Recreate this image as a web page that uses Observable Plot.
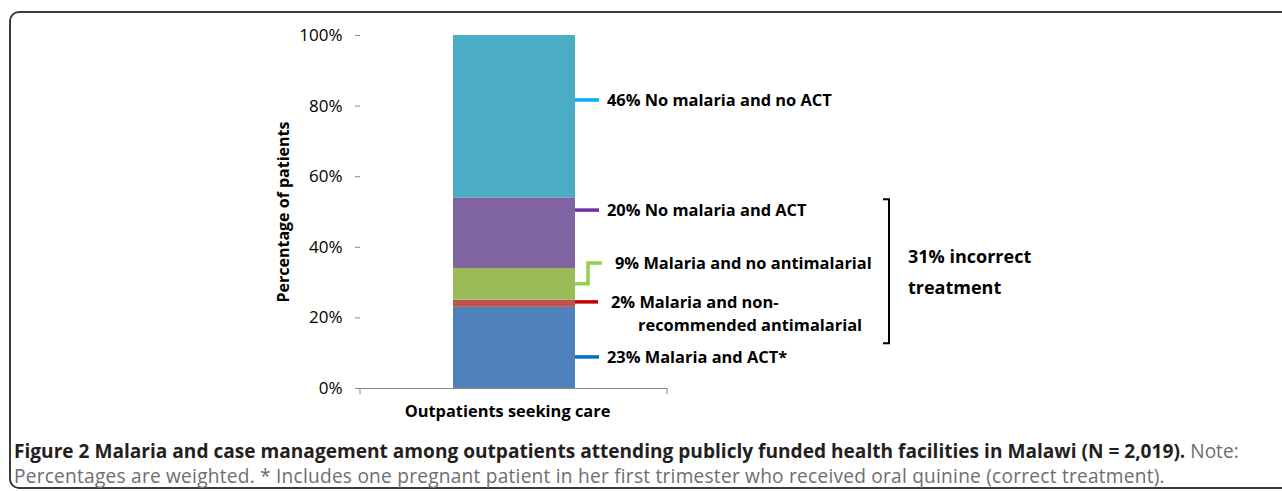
<!DOCTYPE html>
<html><head><meta charset="utf-8">
<script src="https://cdn.jsdelivr.net/npm/d3@7"></script>
<script src="https://cdn.jsdelivr.net/npm/@observablehq/plot@0.6"></script>
<style>
html,body{margin:0;padding:0;background:#fff;width:1282px;height:491px;overflow:hidden;position:relative;}
#frame{position:absolute;left:9px;top:11px;width:1320px;height:478px;border:2px solid #3a3a3a;border-radius:10px;box-sizing:border-box;}
#chart{position:absolute;left:0;top:0;}
#caption{position:absolute;left:14px;top:439px;font-family:"Open Sans";font-size:19.1px;line-height:25px;color:#6d6e71;white-space:nowrap;}
#caption b{color:#231f20;}
#caption .l2{letter-spacing:0.24px;}
</style></head><body>
<div id="frame"></div>
<div id="chart"></div>
<div id="caption"><b>Figure 2 Malaria and case management among outpatients attending publicly funded health facilities in Malawi (N = 2,019).</b> Note:<br><span class="l2">Percentages are weighted. * Includes one pregnant patient in her first trimester who received oral quinine (correct treatment).</span></div>
<script>
const categories = ["Outpatients seeking care"];
const segments = ["Malaria and ACT*", "Malaria and non-recommended antimalarial", "Malaria and no antimalarial", "No malaria and ACT", "No malaria and no ACT"];
const values = [23, 2, 9, 20, 46];
const fillColors = ["#4F81BD", "#C0504D", "#9BBB59", "#8064A2", "#4BACC6"];
const leaderColors = ["#0070C0", "#C00000", "#92D050", "#7030A0", "#00B0F0"];
const labelLines = [["23% Malaria and ACT*"], ["2% Malaria and non-", "recommended antimalarial"], ["9% Malaria and no antimalarial"], ["20% No malaria and ACT"], ["46% No malaria and no ACT"]];
const labelY = [8.8, 24.4, 35.4, 50.4, 81.6];
const bracketRange = [12.7, 53.5];
const bracketText = ["31% incorrect", "treatment"];
const yTicks = [0, 20, 40, 60, 80, 100];
const yLabel = "Percentage of patients";

const data = segments.map((s, i) => ({cat: categories[0], segment: s, value: values[i]}));

function annotations(index, scales, channels, dims) {
  const x = scales.x, y = scales.y;
  let bw = typeof x.bandwidth === "function" ? x.bandwidth() : x.bandwidth;
  if (bw == null && scales.scales && scales.scales.x) bw = scales.scales.x.bandwidth;
  const right = x(categories[0]) + bw;
  const g = d3.create("svg:g").attr("text-anchor", "start");
  const base = dims.height - dims.marginBottom;
  [dims.marginLeft, dims.width - dims.marginRight].forEach(px => {
    g.append("line").attr("x1", px).attr("x2", px).attr("y1", base).attr("y2", base + 6)
      .attr("stroke", "#868686").attr("stroke-width", 1);
  });
  let cum = 0;
  const mids = values.map(v => { const m = cum + v / 2; cum += v; return m; });
  const layout = [
    {pts: [[0, labelY[0]], [24, labelY[0]]], tx: 32},
    {pts: [[0, labelY[1]], [23, labelY[1]]], tx: 36, tx2: 63},
    {pts: [[0, mids[2]], [13, mids[2]], [13, labelY[2]], [27, labelY[2]]], tx: 40},
    {pts: [[0, labelY[3]], [24, labelY[3]]], tx: 32},
    {pts: [[0, labelY[4]], [24, labelY[4]]], tx: 32}
  ];
  layout.forEach((L, i) => {
    g.append("polyline")
      .attr("points", L.pts.map(([dx, v]) => `${right + dx},${y(v)}`).join(" "))
      .attr("fill", "none").attr("stroke", leaderColors[i]).attr("stroke-width", 3.5);
    const ty = y(labelY[i]);
    labelLines[i].forEach((line, j) => {
      g.append("text").attr("x", right + (j === 0 ? L.tx : L.tx2)).attr("y", ty + j * 23)
        .attr("dy", "0.35em").attr("text-anchor", "start").attr("font-family", "Open Sans").attr("font-weight", "bold")
        .attr("font-size", 16.4).attr("fill", "#000").text(line);
    });
  });
  const bx = right + 314;
  const yTop = y(bracketRange[1]), yBot = y(bracketRange[0]);
  g.append("polyline").attr("points", `${bx - 6},${yTop} ${bx},${yTop} ${bx},${yBot} ${bx - 6},${yBot}`)
    .attr("fill", "none").attr("stroke", "#000").attr("stroke-width", 2);
  const ym = (yTop + yBot) / 2;
  bracketText.forEach((t, j) => {
    g.append("text").attr("x", bx + 19).attr("y", ym + (j - 0.5) * 31 + 1).attr("dy", "0.35em")
      .attr("text-anchor", "start").attr("font-family", "Open Sans").attr("font-weight", "bold").attr("font-size", 18)
      .attr("fill", "#000").text(t);
  });
  return g.node();
}

const chart = Plot.plot({
  width: 1282,
  height: 425,
  marginLeft: 360,
  marginRight: 615,
  marginTop: 35,
  marginBottom: 37,
  style: {fontFamily: "Open Sans", background: "transparent", overflow: "visible"},
  x: {domain: categories, padding: 0.431, label: null},
  y: {domain: [0, 100], label: null},
  color: {domain: segments, range: fillColors},
  marks: [
    Plot.barY(data, {x: "cat", y: "value", fill: "segment"}),
    Plot.ruleY([0], {stroke: "#868686"}),
    Plot.axisY({ticks: yTicks, tickFormat: d => d + "%", tickSize: 5, tickPadding: 13, fontSize: 17, stroke: "#868686", color: "#000", line: true, label: null}),
    Plot.axisX({tickSize: 0, tickPadding: 17, dx: -7, fontSize: 16.4, fontWeight: "bold", color: "#000", label: null}),
    Plot.text([yLabel], {frameAnchor: "left", rotate: -90, dx: -77, text: d => d, textAnchor: "middle", fontSize: 16, fontWeight: "bold", fill: "#000"}),
    annotations
  ]
});
document.getElementById("chart").appendChild(chart);
</script>
</body></html>
